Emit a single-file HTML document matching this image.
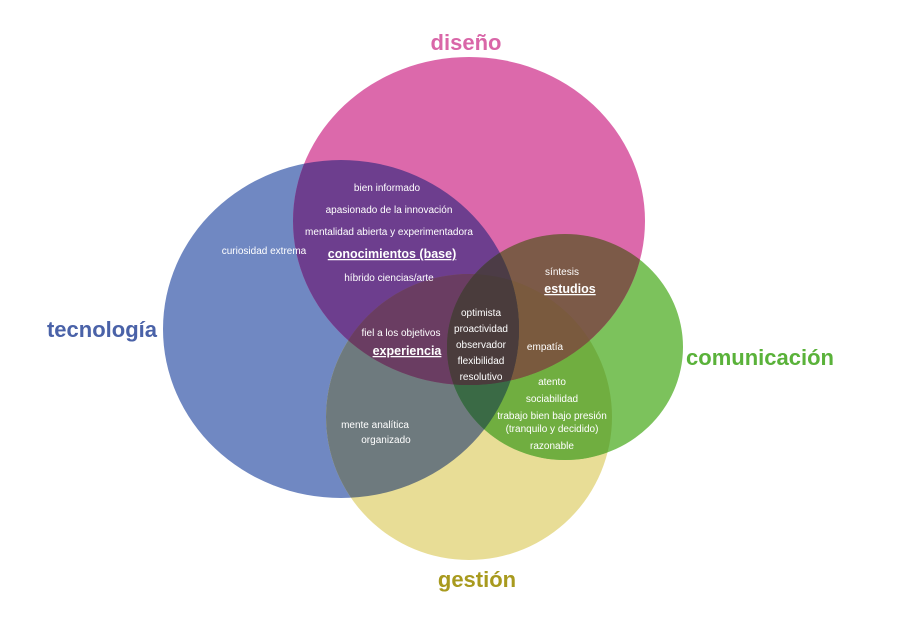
<!DOCTYPE html>
<html><head><meta charset="utf-8"><style>
body{margin:0;background:#fff;}
svg{display:block;font-family:"Liberation Sans",sans-serif;}
.t{fill:#fff;font-size:10px;text-anchor:middle;}
.b{fill:#fff;font-size:12.5px;font-weight:bold;text-anchor:middle;text-decoration:underline;}
.h{font-size:22px;font-weight:bold;text-anchor:middle;}
</style></head><body>
<svg width="900" height="636" viewBox="0 0 900 636">
<defs>
<clipPath id="cB"><ellipse cx="341" cy="329" rx="178" ry="169"/></clipPath>
<clipPath id="cP"><ellipse cx="469" cy="221" rx="176" ry="164"/></clipPath>
<clipPath id="cG"><ellipse cx="565" cy="347" rx="118" ry="113"/></clipPath>
<clipPath id="cY"><ellipse cx="469" cy="417" rx="143" ry="143"/></clipPath>
</defs>
<ellipse cx="341" cy="329" rx="178" ry="169" fill="#7088c2"/>
<ellipse cx="469" cy="417" rx="143" ry="143" fill="#e8dd96"/>
<ellipse cx="565" cy="347" rx="118" ry="113" fill="#7cc25c"/>
<ellipse cx="469" cy="221" rx="176" ry="164" fill="#dc69ab"/>
<!-- pairs -->
<g clip-path="url(#cB)"><rect x="0" y="0" width="900" height="636" fill="#6d3e8e" clip-path="url(#cP)"/></g>
<g clip-path="url(#cB)"><rect x="0" y="0" width="900" height="636" fill="#6e7a7e" clip-path="url(#cY)"/></g>
<g clip-path="url(#cG)"><rect x="0" y="0" width="900" height="636" fill="#70ae40" clip-path="url(#cY)"/></g>
<g clip-path="url(#cP)"><rect x="0" y="0" width="900" height="636" fill="#8a4a5e" clip-path="url(#cY)"/></g>
<g clip-path="url(#cP)"><rect x="0" y="0" width="900" height="636" fill="#7c5a48" clip-path="url(#cG)"/></g>
<g clip-path="url(#cB)"><rect x="0" y="0" width="900" height="636" fill="#3e6a48" clip-path="url(#cG)"/></g>
<!-- triples -->
<g clip-path="url(#cB)"><g clip-path="url(#cP)"><rect x="0" y="0" width="900" height="636" fill="#6a3d62" clip-path="url(#cY)"/></g></g>
<g clip-path="url(#cP)"><g clip-path="url(#cG)"><rect x="0" y="0" width="900" height="636" fill="#7a5a3e" clip-path="url(#cY)"/></g></g>
<g clip-path="url(#cB)"><g clip-path="url(#cG)"><rect x="0" y="0" width="900" height="636" fill="#3a6a45" clip-path="url(#cY)"/></g></g>
<g clip-path="url(#cB)"><g clip-path="url(#cP)"><rect x="0" y="0" width="900" height="636" fill="#4c3c46" clip-path="url(#cG)"/></g></g>
<!-- all four -->
<g clip-path="url(#cB)"><g clip-path="url(#cP)"><g clip-path="url(#cG)"><rect x="0" y="0" width="900" height="636" fill="#4a3c3c" clip-path="url(#cY)"/></g></g></g>
<text class="h" x="466" y="50" fill="#d966a8">diseño</text>
<text class="h" x="102" y="337" fill="#4a62a8">tecnología</text>
<text class="h" x="760" y="365" fill="#5ab23a">comunicación</text>
<text class="h" x="477" y="587" fill="#a89a1e">gestión</text>
<g>
<text class="t" x="387" y="191">bien informado</text>
<text class="t" x="389" y="213">apasionado de la innovación</text>
<text class="t" x="389" y="235">mentalidad abierta y experimentadora</text>
<text class="b" x="392" y="258">conocimientos (base)</text>
<text class="t" x="389" y="281">híbrido ciencias/arte</text>
<text class="t" x="264" y="254">curiosidad extrema</text>
<text class="t" x="562" y="275">síntesis</text>
<text class="b" x="570" y="293">estudios</text>
<text class="t" x="401" y="336">fiel a los objetivos</text>
<text class="b" x="407" y="355">experiencia</text>
<text class="t" x="481" y="316">optimista</text>
<text class="t" x="481" y="332">proactividad</text>
<text class="t" x="481" y="348">observador</text>
<text class="t" x="481" y="364">flexibilidad</text>
<text class="t" x="481" y="380">resolutivo</text>
<text class="t" x="545" y="350">empatía</text>
<text class="t" x="552" y="385">atento</text>
<text class="t" x="552" y="402">sociabilidad</text>
<text class="t" x="552" y="419">trabajo bien bajo presión</text>
<text class="t" x="552" y="432">(tranquilo y decidido)</text>
<text class="t" x="552" y="449">razonable</text>
<text class="t" x="375" y="428">mente analítica</text>
<text class="t" x="386" y="443">organizado</text>
</g>
</svg>
</body></html>
